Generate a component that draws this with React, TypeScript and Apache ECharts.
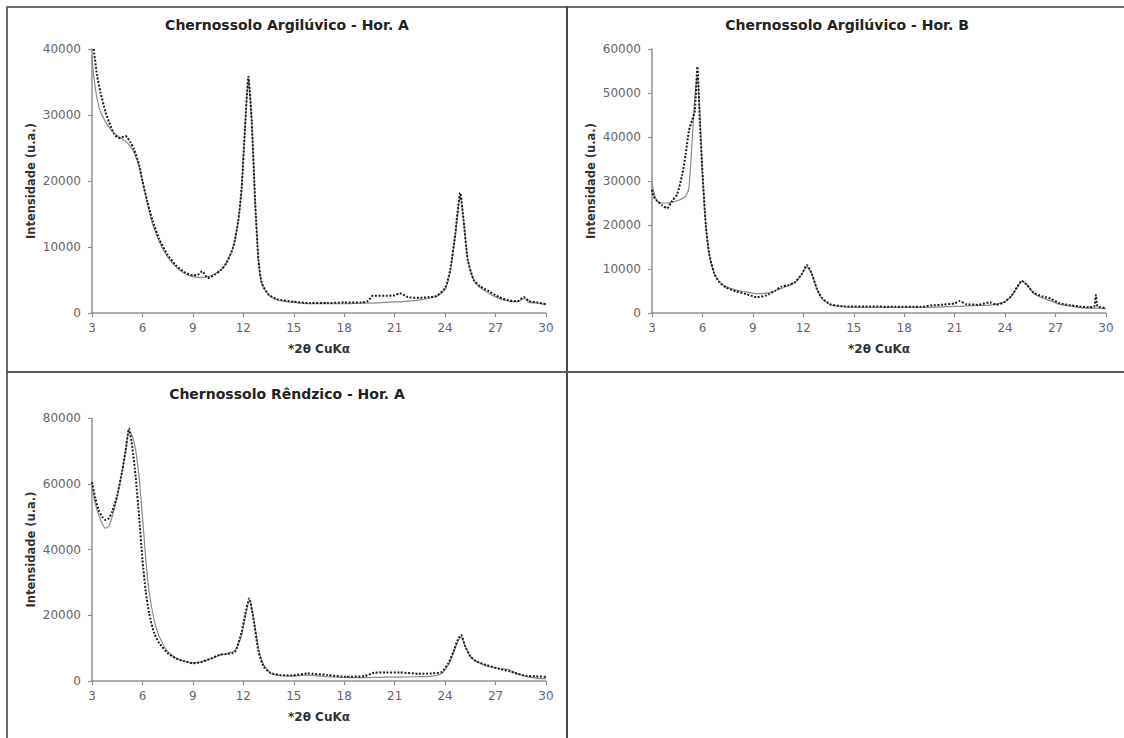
import React, { useEffect, useRef } from "react";
import * as echarts from "echarts";

// ---------- data ----------
const titles = [
  "Chernossolo Argilúvico - Hor. A",
  "Chernossolo Argilúvico - Hor. B",
  "Chernossolo Rêndzico - Hor. A",
];
const xName = "*2θ CuKα";
const yName = "Intensidade (u.a.)";
const xTicks = { min: 3, max: 30, interval: 3 };
const yMax = [40000, 60000, 80000];
const yInterval = [10000, 10000, 20000];

// Panel 1 – Argilúvico Hor. A
const angle1 = [3.0, 3.1, 3.3, 3.5, 3.8, 4.0, 4.3, 4.6, 5.0, 5.3, 5.5, 5.8, 6.0, 6.3, 6.6, 7.0, 7.5, 8.0, 8.5, 9.0, 9.3, 9.55, 9.9, 10.3, 10.7, 11.0, 11.4, 11.7, 11.9, 12.1, 12.3, 12.5, 12.7, 12.9, 13.1, 13.5, 14.0, 15.0, 16.0, 17.0, 18.0, 19.0, 19.4, 19.7, 20.5, 21.0, 21.3, 21.8, 22.5, 23.0, 23.5, 24.0, 24.3, 24.6, 24.9, 25.1, 25.35, 25.7, 26.1, 26.6, 27.2, 27.8, 28.3, 28.7, 29.0, 29.5, 30.0];
const obs1 = [null, 40000, 36000, 33500, 30500, 29000, 27200, 26500, 26800, 25800, 24800, 22500, 20000, 16800, 14000, 11200, 8800, 7200, 6200, 5700, 5800, 6300, 5300, 5800, 6600, 7600, 10000, 14000, 19000, 28000, 35800, 29000, 17000, 8000, 4500, 2800, 2100, 1700, 1500, 1500, 1600, 1600, 1800, 2600, 2600, 2700, 3000, 2400, 2300, 2400, 2600, 3800, 6500, 12000, 18200, 14000, 8000, 5000, 4000, 3300, 2400, 1900, 1800, 2400, 1800, 1600, 1300];
const calc1 = [39000, 36000, 32500, 30500, 29000, 28200, 27300, 26700, 26000, 25200, 24300, 22200, 20000, 16500, 13500, 10800, 8500, 7000, 6000, 5500, 5400, 5400, 5500, 5900, 6600, 7600, 10000, 14000, 19000, 28000, 35500, 29000, 17000, 8000, 4500, 2700, 2000, 1600, 1400, 1400, 1400, 1500, 1500, 1500, 1600, 1700, 1700, 1800, 2000, 2200, 2500, 3600, 6200, 11500, 17800, 14000, 8000, 5000, 3800, 3000, 2200, 1800, 1700, 2200, 1600, 1500, 1300];

// Panel 2 – Argilúvico Hor. B
const angle2 = [3.0, 3.1, 3.3, 3.6, 3.9, 4.2, 4.5, 4.8, 5.0, 5.2, 5.4, 5.55, 5.7, 5.85, 6.0, 6.2, 6.4, 6.7, 7.0, 7.4, 8.0, 8.6, 9.2, 9.8, 10.3, 10.7, 11.1, 11.5, 11.9, 12.2, 12.5, 12.8, 13.1, 13.6, 14.5, 16.0, 17.5, 19.0, 19.6, 20.3, 21.0, 21.3, 21.7, 22.4, 23.1, 23.5, 24.0, 24.4, 24.7, 25.0, 25.3, 25.7, 26.2, 26.7, 27.2, 27.8, 28.4, 29.0, 29.3, 29.4, 29.5, 30.0];
const obs2 = [28000, 26500, 25500, 24500, 23800, 25500, 27000, 31500, 36000, 41500, 44000, 46000, 56000, 43000, 32000, 20000, 13500, 9000, 7000, 5800, 4900, 4300, 3600, 4000, 5000, 6000, 6300, 7000, 8800, 10900, 9000, 5500, 3500, 2000, 1500, 1500, 1400, 1400, 1700, 1900, 2200, 2700, 2000, 1900, 2400, 1900, 2600, 4000, 5800, 7300, 6400, 4600, 3800, 3300, 2300, 1800, 1500, 1300, 1500, 4100, 1500, 1200];
const calc2 = [30000, 27500, 25500, 25000, 25000, 25200, 25500, 26000, 26500, 28500, 40000, 49000, 54000, 45000, 32000, 20000, 13500, 9000, 7200, 6000, 5200, 4800, 4400, 4500, 5000, 5600, 6200, 7000, 8800, 10500, 9000, 5500, 3300, 1900, 1400, 1300, 1300, 1300, 1300, 1400, 1500, 1500, 1600, 1700, 1800, 2000, 2600, 4000, 5800, 7200, 6400, 4500, 3400, 2800, 2000, 1600, 1300, 1100, 1100, 1100, 1100, 1000];

// Panel 3 – Rêndzico Hor. A
const angle3 = [3.0, 3.2, 3.4, 3.6, 3.8, 4.0, 4.2, 4.5, 4.8, 5.0, 5.2, 5.4, 5.6, 5.8, 6.0, 6.2, 6.4, 6.7, 7.0, 7.5, 8.0, 8.5, 9.0, 9.5, 10.1, 10.6, 11.0, 11.5, 11.9, 12.1, 12.35, 12.6, 12.9, 13.2, 13.6, 14.2, 14.9, 15.8, 17.0, 18.1, 19.2, 19.8, 20.5, 21.3, 22.4, 23.2, 23.8, 24.2, 24.5, 24.75, 24.95, 25.2, 25.5, 25.85, 26.5, 27.2, 27.8, 28.3, 28.8, 29.4, 30.0];
const obs3 = [60500, 55500, 52000, 50000, 49000, 49500, 51500, 56500, 64000, 70000, 76800, 71000, 62000, 50000, 37000, 27000, 20500, 14500, 11500, 8500, 6800, 6000, 5400, 5800, 6900, 8000, 8200, 8800, 15000, 20000, 25100, 19000, 9000, 4500, 2500, 1800, 1700, 2300, 1800, 1300, 1500, 2500, 2600, 2600, 2200, 2300, 2800, 5500, 9000, 12500, 14000, 10500, 7500, 6000, 4800, 3700, 3000, 2200, 1600, 1400, 1300];
const calc3 = [59000, 54000, 50500, 48000, 46500, 47000, 50000, 56000, 64000, 70000, 76000, 74500, 70000, 62000, 50000, 37000, 27000, 18500, 13500, 9000, 7000, 6000, 5500, 5800, 6800, 7800, 8300, 9300, 14000, 19000, 24500, 19500, 10000, 5000, 2500, 1600, 1500, 1800, 1300, 1100, 1000, 1100, 1200, 1200, 1300, 1500, 2300, 5000, 8500, 12000, 13500, 10500, 7500, 6000, 4500, 3800, 3400, 2200, 1400, 900, 700];

const panels = [
  { x: angle1, obs: obs1, calc: calc1 },
  { x: angle2, obs: obs2, calc: calc2 },
  { x: angle3, obs: obs3, calc: calc3 },
];

// ---------- layout ----------
const grids = [
  { left: 92, top: 49, width: 454, height: 264 },
  { left: 652, top: 49, width: 454, height: 264 },
  { left: 92, top: 418, width: 454, height: 263 },
];
const titlePos = [
  [287, 25],
  [847, 25],
  [287, 394],
];

const pairs = (xs: number[], ys: (number | null)[]) => xs.map((x, i) => [x, ys[i]]);

export default function App() {
  const ref = useRef<HTMLDivElement>(null);
  useEffect(() => {
    if (!ref.current) return;
    const chart = echarts.init(ref.current, undefined, { renderer: "svg" });
    const axisColor = "#909090";
    const option: any = {
      animation: false,
      backgroundColor: "#fff",
      grid: grids.map((g) => ({ ...g, containLabel: false })),
      xAxis: grids.map((_, i) => ({
        type: "value",
        gridIndex: i,
        min: xTicks.min,
        max: xTicks.max,
        interval: xTicks.interval,
        name: xName,
        nameLocation: "middle",
        nameGap: 30,
        nameTextStyle: { fontFamily: "DejaVu Sans", fontWeight: "bold", fontSize: 12, color: "#333" },
        axisLine: { show: true, onZero: false, lineStyle: { color: axisColor, width: 1.5 } },
        axisTick: { show: true, length: 4, lineStyle: { color: axisColor, width: 1.2 } },
        axisLabel: { fontFamily: "DejaVu Sans", fontSize: 12, color: "#666", margin: 9, formatter: (v: number) => String(v) },
        splitLine: { show: false },
      })),
      yAxis: grids.map((_, i) => ({
        type: "value",
        gridIndex: i,
        min: 0,
        max: yMax[i],
        interval: yInterval[i],
        name: yName,
        nameLocation: "middle",
        nameGap: 55,
        nameTextStyle: { fontFamily: "DejaVu Sans", fontWeight: "bold", fontSize: 11.5, color: "#333" },
        axisLine: { show: true, lineStyle: { color: axisColor, width: 1.5 } },
        axisTick: { show: true, length: 4, lineStyle: { color: axisColor, width: 1.2 } },
        axisLabel: { fontFamily: "DejaVu Sans", fontSize: 12, color: "#666", margin: 11, formatter: (v: number) => String(v) },
        splitLine: { show: false },
      })),
      series: panels.flatMap((p, i) => [
        {
          type: "line",
          name: "calc" + i,
          xAxisIndex: i,
          yAxisIndex: i,
          data: pairs(p.x, p.calc),
          showSymbol: false,
          symbol: "none",
          smooth: 0.2,
          z: 2,
          lineStyle: { color: "#8a8a8a", width: 1.2 },
        },
        {
          type: "line",
          name: "obs" + i,
          xAxisIndex: i,
          yAxisIndex: i,
          data: pairs(p.x, p.obs),
          showSymbol: false,
          symbol: "none",
          smooth: 0.2,
          connectNulls: false,
          z: 3,
          lineStyle: { color: "#1e1e1e", width: 2, type: [2, 1.6] },
        },
      ]),
      graphic: [
        { type: "line", shape: { x1: 6, y1: 7, x2: 1124, y2: 7 }, style: { stroke: "#6a6a6a", lineWidth: 2 } },
        { type: "line", shape: { x1: 7, y1: 6, x2: 7, y2: 738 }, style: { stroke: "#6a6a6a", lineWidth: 2 } },
        { type: "line", shape: { x1: 567, y1: 6, x2: 567, y2: 738 }, style: { stroke: "#4a4a4a", lineWidth: 2 } },
        { type: "line", shape: { x1: 6, y1: 372, x2: 1124, y2: 372 }, style: { stroke: "#5a5a5a", lineWidth: 2 } },
        ...titles.map((t, i) => ({
          type: "text",
          x: titlePos[i][0],
          y: titlePos[i][1],
          style: {
            text: t,
            fill: "#222",
            fontFamily: "DejaVu Sans",
            fontWeight: "bold",
            fontSize: 14,
            align: "center",
            verticalAlign: "middle",
            textAlign: "center",
            textVerticalAlign: "middle",
          },
        })),
      ],
    };
    chart.setOption(option);
    return () => chart.dispose();
  }, []);
  return (
    <div
      ref={ref}
      style={{ position: "absolute", left: 0, top: 0, width: 1124, height: 738, background: "#fff" }}
    />
  );
}
